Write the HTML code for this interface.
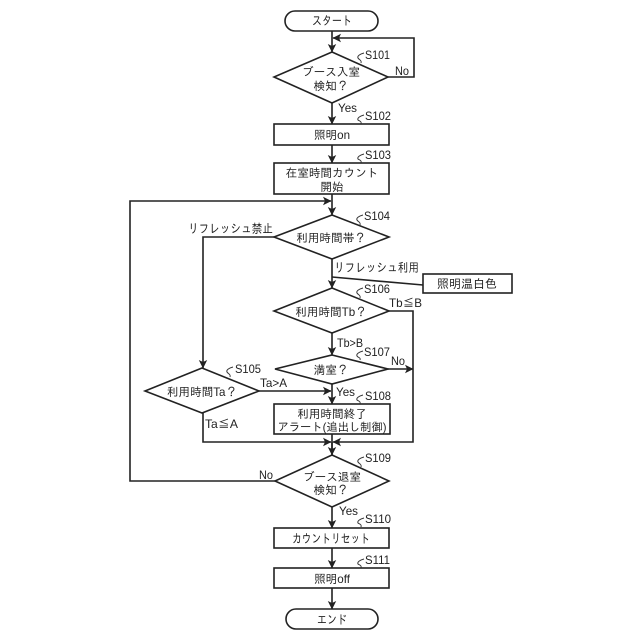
<!DOCTYPE html>
<html><head><meta charset="utf-8">
<style>
html,body{margin:0;padding:0;background:#fff;width:640px;height:640px;overflow:hidden}
svg{display:block}
text{font-family:"Liberation Sans","IPAGothic","Noto Sans CJK JP",sans-serif;font-size:11.6px;fill:#222}
.c{text-anchor:middle}
.e{font-size:12px}
.k{font-size:12.5px}
.s{fill:none;stroke:#222;stroke-width:1.6}
.n{fill:#fff;stroke:#222;stroke-width:1.6}
.q{fill:none;stroke:#333;stroke-width:1}
</style></head><body>
<svg width="640" height="640" viewBox="0 0 640 640" xmlns="http://www.w3.org/2000/svg">
<defs><marker id="a" markerWidth="10" markerHeight="10" refX="8" refY="5" orient="auto" markerUnits="userSpaceOnUse"><path d="M0,0.8L8.5,5L0,9.2L2,5Z" fill="#222"/></marker></defs>

<!-- connectors -->
<path class="s" marker-end="url(#a)" d="M332,31V52"/>
<path class="s" marker-end="url(#a)" d="M388,77H414V38H333"/>
<path class="s" marker-end="url(#a)" d="M332,103V124"/>
<path class="s" marker-end="url(#a)" d="M332,145V163"/>
<path class="s" marker-end="url(#a)" d="M332,194V215"/>
<path class="s" marker-end="url(#a)" d="M275,481H130V201H331"/>
<path class="s" marker-end="url(#a)" d="M274,237H203V368"/>
<path class="s" marker-end="url(#a)" d="M332,259V288"/>
<path class="s" d="M332,277L423,285"/>
<path class="s" marker-end="url(#a)" d="M389,311H413V442H333"/>
<path class="s" marker-end="url(#a)" d="M332,333V355"/>
<path class="s" marker-end="url(#a)" d="M388,369H413"/>
<path class="s" marker-end="url(#a)" d="M332,384V404"/>
<path class="s" marker-end="url(#a)" d="M259,391H331"/>
<path class="s" d="M332,434V455"/>
<path class="s" marker-end="url(#a)" d="M203,413V442H331"/>
<path class="s" marker-end="url(#a)" d="M332,442V455"/>
<path class="s" marker-end="url(#a)" d="M332,507V528"/>
<path class="s" marker-end="url(#a)" d="M332,548V568"/>
<path class="s" marker-end="url(#a)" d="M332,588V609"/>

<!-- shapes -->
<rect class="n" x="285" y="11" width="93" height="20" rx="10"/>
<polygon class="n" points="332,52 388,77 332,103 274,77"/>
<rect class="n" x="274" y="124" width="115" height="21"/>
<rect class="n" x="274" y="163" width="115" height="31"/>
<polygon class="n" points="332,215 389,237 332,259 274,237"/>
<rect class="n" x="423" y="274" width="89" height="19"/>
<polygon class="n" points="332,288 389,311 332,333 274,311"/>
<polygon class="n" points="332,355 388,369 332,384 275,369"/>
<polygon class="n" points="202,368 259,391 202,413 145,391"/>
<rect class="n" x="274" y="404" width="116" height="30"/>
<polygon class="n" points="332,455 389,481 332,507 275,481"/>
<rect class="n" x="274" y="528" width="115" height="20"/>
<rect class="n" x="274" y="568" width="115" height="20"/>
<rect class="n" x="286" y="609" width="92" height="20" rx="10"/>

<!-- squiggles -->
<path class="q" d="M364,53c-4,1 -7,3 -6,5c1,2 4,2 3,5"/>
<path class="q" d="M364,115c-4,1 -7,3 -6,5c1,1 4,1 3,4"/>
<path class="q" d="M364,154c-4,1 -7,3 -6,5c1,1 4,1 3,4"/>
<path class="q" d="M363,215c-4,1 -7,3 -6,5c1,2 4,2 3,5"/>
<path class="q" d="M363,288c-4,1 -7,3 -6,5c1,2 4,2 3,5"/>
<path class="q" d="M363,351c-4,1 -7,3 -6,5c1,2 4,1 3,4"/>
<path class="q" d="M233,367c-4,1 -7,3 -6,5c1,2 4,2 3,5"/>
<path class="q" d="M363,395c-4,1 -7,3 -6,5c1,1 4,1 3,4"/>
<path class="q" d="M364,457c-4,1 -7,3 -6,5c1,2 4,2 3,5"/>
<path class="q" d="M364,518c-4,1 -7,3 -6,5c1,1 4,1 3,4"/>
<path class="q" d="M364,559c-4,1 -7,3 -6,5c1,1 4,1 3,4"/>

<!-- node text -->
<text class="c k" x="332" y="25" textLength="40" lengthAdjust="spacingAndGlyphs">スタート</text>
<text class="c" x="331" y="76">ブース入室</text>
<text class="c" x="331" y="90">検知？</text>
<text class="c" x="332" y="139">照明on</text>
<text class="c" x="332" y="177">在室時間カウント</text>
<text class="c" x="332" y="191">開始</text>
<text class="c" x="331" y="242">利用時間帯？</text>
<text class="c" x="467" y="288" style="font-size:12px">照明温白色</text>
<text class="c" x="331" y="316">利用時間Tb？</text>
<text class="c" x="331" y="374">満室？</text>
<text class="c" x="202" y="396">利用時間Ta？</text>
<text class="c" x="332" y="418">利用時間終了</text>
<text class="c" x="332" y="431" textLength="109" lengthAdjust="spacingAndGlyphs">アラート(追出し制御)</text>
<text class="c" x="332" y="481">ブース退室</text>
<text class="c" x="331" y="494">検知？</text>
<text class="c k" x="331" y="543" textLength="78" lengthAdjust="spacingAndGlyphs">カウントリセット</text>
<text class="c" x="332" y="583">照明off</text>
<text class="c k" x="332" y="624" textLength="30" lengthAdjust="spacingAndGlyphs">エンド</text>

<!-- edge labels -->
<text class="e" x="395" y="75" textLength="14" lengthAdjust="spacingAndGlyphs">No</text>
<text class="e" x="338" y="112" textLength="19" lengthAdjust="spacingAndGlyphs">Yes</text>
<text class="k" x="188" y="233" textLength="85" lengthAdjust="spacingAndGlyphs">リフレッシュ禁止</text>
<text class="k" x="334" y="272" textLength="85" lengthAdjust="spacingAndGlyphs">リフレッシュ利用</text>
<text class="e" x="389" y="307" textLength="33" lengthAdjust="spacingAndGlyphs">Tb≦B</text>
<text class="e" x="337" y="347" textLength="26" lengthAdjust="spacingAndGlyphs">Tb&gt;B</text>
<text class="e" x="391" y="365" textLength="14" lengthAdjust="spacingAndGlyphs">No</text>
<text class="e" x="260" y="387" textLength="27" lengthAdjust="spacingAndGlyphs">Ta&gt;A</text>
<text class="e" x="336" y="396" textLength="19" lengthAdjust="spacingAndGlyphs">Yes</text>
<text class="e" x="205" y="428" textLength="33" lengthAdjust="spacingAndGlyphs">Ta≦A</text>
<text class="e" x="259" y="479" textLength="14" lengthAdjust="spacingAndGlyphs">No</text>
<text class="e" x="339" y="515" textLength="19" lengthAdjust="spacingAndGlyphs">Yes</text>

<!-- step labels -->
<text class="e" x="365" y="59" textLength="25" lengthAdjust="spacingAndGlyphs">S101</text>
<text class="e" x="365" y="120" textLength="26" lengthAdjust="spacingAndGlyphs">S102</text>
<text class="e" x="365" y="159" textLength="26" lengthAdjust="spacingAndGlyphs">S103</text>
<text class="e" x="364" y="220" textLength="26" lengthAdjust="spacingAndGlyphs">S104</text>
<text class="e" x="364" y="293" textLength="26" lengthAdjust="spacingAndGlyphs">S106</text>
<text class="e" x="364" y="356" textLength="26" lengthAdjust="spacingAndGlyphs">S107</text>
<text class="e" x="235" y="373" textLength="26" lengthAdjust="spacingAndGlyphs">S105</text>
<text class="e" x="365" y="400" textLength="26" lengthAdjust="spacingAndGlyphs">S108</text>
<text class="e" x="365" y="462" textLength="26" lengthAdjust="spacingAndGlyphs">S109</text>
<text class="e" x="365" y="523" textLength="26" lengthAdjust="spacingAndGlyphs">S110</text>
<text class="e" x="365" y="564" textLength="25" lengthAdjust="spacingAndGlyphs">S111</text>
</svg>
</body></html>
